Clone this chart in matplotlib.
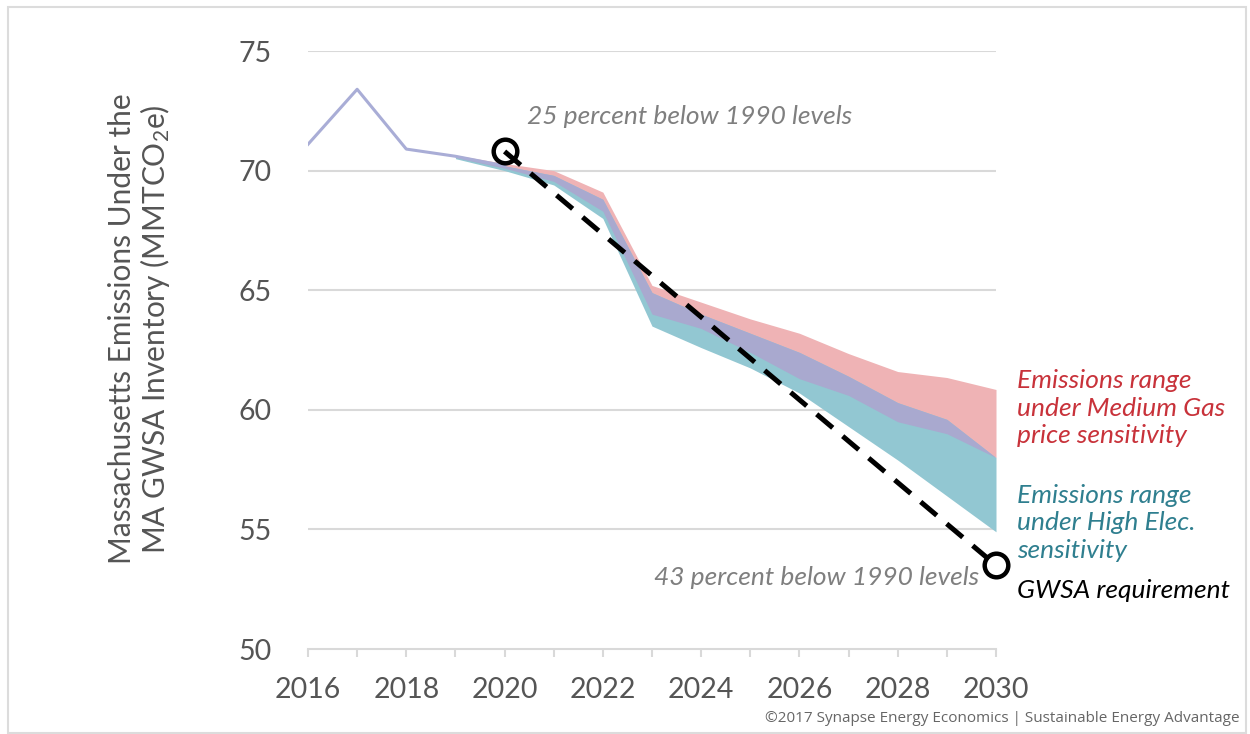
import matplotlib
matplotlib.use("Agg")
import matplotlib.pyplot as plt
import numpy as np
from matplotlib.patches import Rectangle

plt.rcParams['font.family'] = ['Lato', 'DejaVu Sans']
plt.rcParams['mathtext.fontset'] = 'custom'
plt.rcParams['mathtext.rm'] = 'Lato'
plt.rcParams['mathtext.it'] = 'Lato:italic'

# ---- data ----
hist_years = [2016, 2017, 2018, 2019, 2020]
hist_vals = [71.1, 73.4, 70.9, 70.6, 70.2]

band_years = [2019, 2020, 2021, 2022, 2023, 2024, 2025, 2026, 2027, 2028, 2029, 2030]
gas_top = [70.65, 70.3, 70.0, 69.1, 65.2, 64.5, 63.8, 63.2, 62.35, 61.6, 61.35, 60.85]
gas_bot = [70.55, 70.1, 69.55, 68.3, 64.0, 63.4, 62.4, 61.3, 60.6, 59.5, 59.0, 58.0]
elec_top = [70.6, 70.2, 69.8, 68.8, 64.9, 64.0, 63.2, 62.4, 61.4, 60.3, 59.6, 58.0]
elec_bot = [70.5, 70.0, 69.4, 68.0, 63.5, 62.6, 61.75, 60.7, 59.3, 57.9, 56.4, 54.9]

gwsa_years = [2020, 2030]
gwsa_vals = [70.8, 53.5]

y_ticks = [50, 55, 60, 65, 70, 75]
x_ticks = list(range(2016, 2031))
x_labels = [str(y) if y % 2 == 0 else '' for y in x_ticks]

# ---- figure ----
fig = plt.figure(figsize=(12.5, 7.34), dpi=100)
fig.patches.append(Rectangle((0.006, 0.002), 0.991, 0.988, transform=fig.transFigure,
                             fill=False, edgecolor='#dcdcdc', linewidth=1.5))
ax = fig.add_axes([0.2464, 0.1158, 0.5504, 0.8147])

yrs = np.array(band_years)
gt, gb = np.array(gas_top), np.array(gas_bot)
et, eb = np.array(elec_top), np.array(elec_bot)

ax.fill_between(yrs, gb, gt, color='#efb3b5', linewidth=0, zorder=2)
ax.fill_between(yrs, eb, et, color='#92c7d2', linewidth=0, zorder=2)
ax.fill_between(yrs, np.maximum(gb, eb), np.minimum(gt, et), color='#a9a9cf',
                linewidth=0, zorder=3)

ax.plot(hist_years, hist_vals, color='#a9add6', linewidth=2.2, zorder=4)

ax.plot(gwsa_years, gwsa_vals, color='black', linewidth=3.6, dashes=(4.2, 2.6),
        zorder=5, clip_on=False)
ax.plot(gwsa_years, gwsa_vals, linestyle='none', marker='o', markersize=17,
        markerfacecolor='none', markeredgecolor='black', markeredgewidth=3.2,
        zorder=6, clip_on=False)

ax.set_xlim(2016, 2030)
ax.set_ylim(50, 75)
ax.set_yticks(y_ticks)
ax.set_xticks(x_ticks)
ax.set_xticklabels(x_labels)
for y in y_ticks[1:]:
    ax.axhline(y, color='#d9d9d9', linewidth=1.5, zorder=1)

for s in ['top', 'right', 'left']:
    ax.spines[s].set_visible(False)
ax.spines['bottom'].set_color('#d9d9d9')
ax.spines['bottom'].set_linewidth(1.5)
ax.tick_params(axis='x', direction='out', length=6, width=1.5, color='#d9d9d9',
               labelsize=20.5, labelcolor='#555555', pad=14)
ax.tick_params(axis='y', length=0, labelsize=20.5, labelcolor='#555555', pad=26)
ax.patch.set_alpha(0)

ax.set_ylabel('Massachusetts Emissions Under the\nMA GWSA Inventory (MMTCO$_2$e)',
              fontsize=21.5, color='#555555', linespacing=1.1)
ax.yaxis.set_label_coords(-0.197, 0.535)

ax.text(2020.45, 72.25, '25 percent below 1990 levels', fontsize=19, style='italic',
        color='#7f7f7f', ha='left', va='center')
ax.text(2029.65, 53.0, '43 percent below 1990 levels', fontsize=19, style='italic',
        color='#7f7f7f', ha='right', va='center')

fig.text(0.8136, 0.444, 'Emissions range\nunder Medium Gas\nprice sensitivity',
         fontsize=19, style='italic', color='#c8323a', ha='left', va='center',
         linespacing=1.25)
fig.text(0.8136, 0.2875, 'Emissions range\nunder High Elec.\nsensitivity',
         fontsize=19, style='italic', color='#2f7f8f', ha='left', va='center',
         linespacing=1.25)
fig.text(0.8136, 0.196, 'GWSA requirement', fontsize=19, style='italic',
         color='black', ha='left', va='center')

fig.text(0.992, 0.021, '©2017 Synapse Energy Economics | Sustainable Energy Advantage',
         fontsize=11, color='#666666', ha='right', va='center',
         family=['Open Sans', 'DejaVu Sans'])

fig.savefig('out.png', dpi=100)
